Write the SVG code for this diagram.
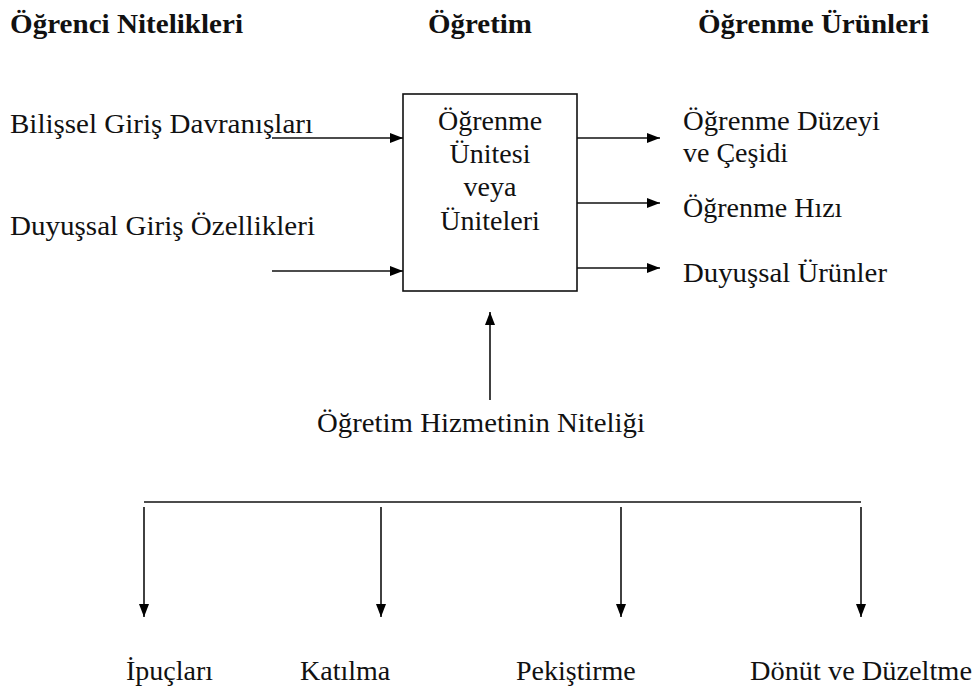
<svg xmlns="http://www.w3.org/2000/svg" width="976" height="692" viewBox="0 0 976 692" font-family="'Liberation Serif', 'Times New Roman', serif" font-size="28" fill="#111">
<defs>
<marker id="ah" markerWidth="14" markerHeight="12" refX="13" refY="5" orient="auto" markerUnits="userSpaceOnUse">
<path d="M0,0 L13,5 L0,10 z" fill="#000" stroke="none"/>
</marker>
</defs>
<rect width="976" height="692" fill="#fff"/>
<g id="headers" font-weight="bold">
<text x="10" y="33" textLength="233" lengthAdjust="spacingAndGlyphs">Öğrenci Nitelikleri</text>
<text x="428" y="33" textLength="104" lengthAdjust="spacingAndGlyphs">Öğretim</text>
<text x="698" y="33" textLength="231" lengthAdjust="spacingAndGlyphs">Öğrenme Ürünleri</text>
</g>
<g id="input-bilissel"><text x="10" y="133" textLength="303" lengthAdjust="spacingAndGlyphs">Bilişsel Giriş Davranışları</text></g>
<g id="input-duyussal"><text x="10" y="235" textLength="305" lengthAdjust="spacingAndGlyphs">Duyuşsal Giriş Özellikleri</text></g>
<g id="unit">
<rect x="403" y="94" width="174" height="197" fill="#fff" stroke="#111" stroke-width="1.6"/>
<text text-anchor="middle" x="490" y="130">Öğrenme</text>
<text text-anchor="middle" x="490" y="163">Ünitesi</text>
<text text-anchor="middle" x="490" y="196">veya</text>
<text text-anchor="middle" x="490" y="230">Üniteleri</text>
</g>
<g id="out-duzey"><text x="683" y="130" textLength="197" lengthAdjust="spacingAndGlyphs">Öğrenme Düzeyi</text><text x="683" y="162">ve Çeşidi</text></g>
<g id="out-hiz"><text x="683" y="217">Öğrenme Hızı</text></g>
<g id="out-duyussal"><text x="683" y="282" textLength="204" lengthAdjust="spacingAndGlyphs">Duyuşsal Ürünler</text></g>
<g id="hizmet"><text x="317" y="432" textLength="328" lengthAdjust="spacingAndGlyphs">Öğretim Hizmetinin Niteliği</text></g>
<g id="ipuclari"><text x="126" y="680">İpuçları</text></g>
<g id="katilma"><text x="300" y="680">Katılma</text></g>
<g id="pekistirme"><text x="516" y="680">Pekiştirme</text></g>
<g id="donut"><text x="750" y="680" textLength="222" lengthAdjust="spacingAndGlyphs">Dönüt ve Düzeltme</text></g>
<g id="connectors" stroke="#111" stroke-width="1.6" fill="none">
<line x1="272" y1="138" x2="403" y2="138" marker-end="url(#ah)"/>
<line x1="272" y1="271" x2="403" y2="271" marker-end="url(#ah)"/>
<line x1="577" y1="138" x2="660" y2="138" marker-end="url(#ah)"/>
<line x1="577" y1="203" x2="660" y2="203" marker-end="url(#ah)"/>
<line x1="577" y1="268" x2="660" y2="268" marker-end="url(#ah)"/>
<line x1="490" y1="400" x2="490" y2="312" marker-end="url(#ah)"/>
<line x1="144" y1="502" x2="861" y2="502"/>
<line x1="144" y1="507" x2="144" y2="617" marker-end="url(#ah)"/>
<line x1="381" y1="507" x2="381" y2="617" marker-end="url(#ah)"/>
<line x1="621" y1="507" x2="621" y2="617" marker-end="url(#ah)"/>
<line x1="861" y1="507" x2="861" y2="617" marker-end="url(#ah)"/>
</g>
</svg>
